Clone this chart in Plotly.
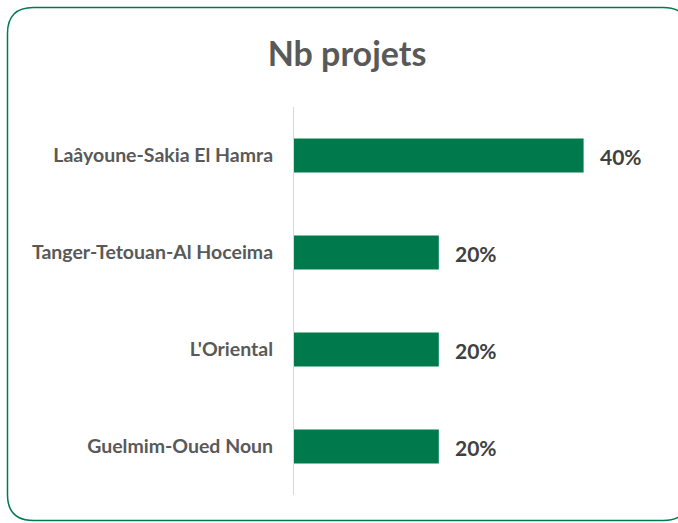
import plotly.graph_objects as go

categories = ["Laâyoune-Sakia El Hamra", "Tanger-Tetouan-Al Hoceima", "L'Oriental", "Guelmim-Oued Noun"]
values = [0.40, 0.20, 0.20, 0.20]
title_text = "Nb projets"

W, H = 678, 523
ML, MR, MT, MB = 294, 22, 107, 28
PW, PH = W - ML - MR, H - MT - MB
GREEN = "#007A4D"
FONT = "Lato"

def px(x):
    return (x - ML) / PW

def py(y):
    return (H - MB - y) / PH

def rounded_rect(x0, y0, x1, y1, r):
    pts = [
        ("M", px(x0 + r), py(y0)),
        ("L", px(x1 - r), py(y0)),
        ("Q", px(x1), py(y0), px(x1), py(y0 + r)),
        ("L", px(x1), py(y1 - r)),
        ("Q", px(x1), py(y1), px(x1 - r), py(y1)),
        ("L", px(x0 + r), py(y1)),
        ("Q", px(x0), py(y1), px(x0), py(y1 - r)),
        ("L", px(x0), py(y0 + r)),
        ("Q", px(x0), py(y0), px(x0 + r), py(y0)),
    ]
    s = ""
    for p in pts:
        s += p[0] + " " + " ".join(f"{v:.5f}" for v in p[1:]) + " "
    return s + "Z"

fig = go.Figure(go.Bar(
    x=values, y=categories, orientation="h",
    marker=dict(color=GREEN, line=dict(width=0)),
    hoverinfo="skip",
))

for c, v in zip(categories, values):
    fig.add_annotation(x=v, y=c, xref="x", yref="y", text=f"<b>{v:.0%}</b>",
                       showarrow=False, xanchor="left", xshift=14, yshift=-1,
                       font=dict(family=FONT, size=21, color="#404040"))

fig.add_shape(type="path", xref="paper", yref="paper",
              path=rounded_rect(7.5, 7.5, 689, 520.5, 26),
              line=dict(color=GREEN, width=1.5), layer="above")

fig.update_layout(
    width=W, height=H,
    margin=dict(l=ML, r=MR, t=MT, b=MB),
    paper_bgcolor="white", plot_bgcolor="white",
    showlegend=False,
    bargap=0.65,
    title=dict(text=f"<b>{title_text}</b>", x=px(347), xref="paper", xanchor="center",
               y=1 - 54 / H, yref="container", yanchor="middle",
               font=dict(family=FONT, size=34, color="#595959")),
    xaxis=dict(range=[0, 0.5], visible=False, fixedrange=True),
    yaxis=dict(autorange="reversed", showline=True, linecolor="#D9D9D9", linewidth=1,
               showgrid=False, ticks="", ticklabelstandoff=16,
               tickfont=dict(family=FONT, size=19.5, color="#595959", weight="bold"),
               fixedrange=True),
)

fig.write_html("out.html", config={"displayModeBar": False},
               post_script="document.body.style.margin='0';")
